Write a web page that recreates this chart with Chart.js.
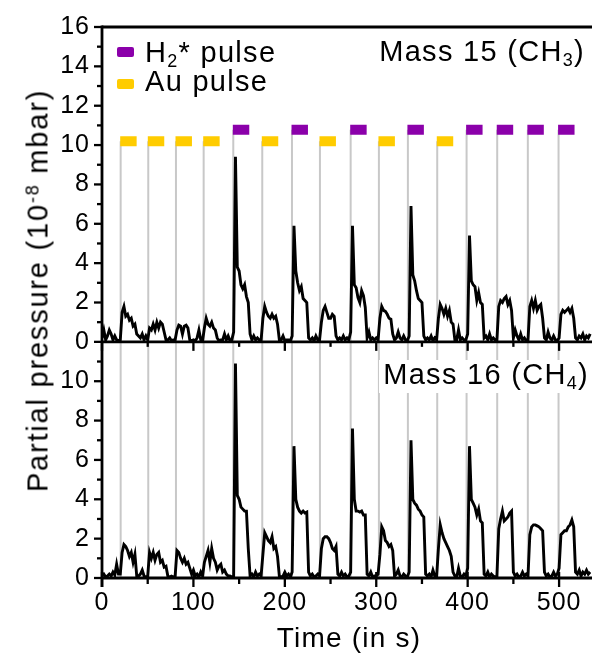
<!DOCTYPE html>
<html><head><meta charset="utf-8">
<script src="https://cdn.jsdelivr.net/npm/chart.js@4.4.1/dist/chart.umd.min.js"></script>
<style>
html,body{margin:0;padding:0;background:#fff;}
#wrap{position:relative;width:592px;height:654px;overflow:hidden;font-family:"Liberation Sans",Arial,sans-serif;color:#000;}
#c{position:absolute;left:0;top:0;}
.t{position:absolute;white-space:nowrap;}
sub{font-size:0.62em;vertical-align:baseline;position:relative;top:0.28em;line-height:0;}
sup{font-size:0.62em;vertical-align:baseline;position:relative;top:-0.5em;line-height:0;}
.sw{position:absolute;width:17px;height:10px;border-radius:2px;}
#ytitle{left:-212px;top:276px;width:500px;height:29px;line-height:29px;text-align:center;font-size:29px;letter-spacing:1.8px;transform:rotate(-90deg);}
#xtitle{left:199px;top:624px;width:300px;height:28px;line-height:28px;text-align:center;font-size:28px;letter-spacing:1.2px;}
#leg1,#leg2{font-size:29px;line-height:29px;letter-spacing:1.3px;left:145px;}
#leg1{top:38px;}
#leg2{top:67px;}
#m15{font-size:29px;line-height:29px;letter-spacing:1.3px;right:7px;top:37px;}
#m16{font-size:29px;line-height:29px;letter-spacing:1.3px;right:3px;top:360px;background:#fff;padding:0 0 4px 4px;}
</style></head>
<body><div id="wrap">
<canvas id="c" width="592" height="654"></canvas>
<div class="sw" style="left:117px;top:47px;background:#8B00AA"></div>
<div class="sw" style="left:117px;top:79px;background:#FFCC00"></div>
<div class="t" id="leg1">H<sub>2</sub>* pulse</div>
<div class="t" id="leg2">Au pulse</div>
<div class="t" id="m15">Mass 15 (CH<sub>3</sub>)</div>
<div class="t" id="m16">Mass 16 (CH<sub>4</sub>)</div>
<div class="t" id="ytitle">Partial pressure (10<sup>-8</sup> mbar)</div>
<div class="t" id="xtitle">Time (in s)</div>
</div>
<script>
// ---- data (time in s, sampled every 2 s; pressure in 1e-8 mbar) ----
const sampleStep = 2;
const mass15 = [
 0.2,0.6,0.1,0.3,0.6,0.4,0.1,0.3,0.1,0.05,
 0.1,1.5,1.8,1.3,1.4,1.1,1.2,0.8,0.9,0.4,
 0.3,0.2,0.4,0.1,0.3,0.1,0.7,0.6,0.9,0.6,
 1.0,0.7,1.0,0.9,0.5,0.1,0.1,0.2,0.05,0.1,
 0.1,0.6,0.85,0.8,0.4,0.8,0.85,0.7,0.1,0.05,
 0.1,0.05,0.2,0.6,0.1,0.05,0.7,1.2,0.9,0.8,
 1.0,0.7,0.6,0.2,0.05,0.1,0.1,0.4,0.1,0.3,
 0.05,0.1,0.5,9.4,3.8,3.6,2.9,2.7,2.9,2.3,
 2.0,0.4,0.1,0.3,0.1,0.2,0.1,0.05,1.2,1.8,
 1.5,1.3,1.2,1.4,1.2,1.3,0.9,0.1,0.1,0.3,
 0.05,0.1,0.1,0.05,0.3,5.9,3.6,3.0,2.6,2.8,
 2.2,2.1,2.0,0.2,0.1,0.2,0.05,0.3,0.1,0.1,
 1.0,1.6,1.8,1.5,1.2,1.2,1.4,1.3,0.3,0.1,
 0.2,0.1,0.3,0.1,0.2,0.1,0.5,5.9,2.9,2.75,
 2.25,2.0,2.6,2.35,1.75,0.2,0.5,0.1,0.2,0.1,
 0.2,0.1,1.2,1.8,1.6,1.55,1.4,1.2,1.15,0.4,
 0.1,0.2,0.5,0.2,0.1,0.3,0.1,0.05,0.3,6.9,
 3.4,3.1,2.6,2.2,2.1,2.0,0.3,0.1,0.2,0.1,
 0.3,0.05,0.2,0.1,1.2,1.9,1.7,1.4,1.7,1.3,
 1.6,1.0,0.9,0.1,0.1,0.6,0.1,0.2,0.1,0.1,
 0.4,5.4,3.1,2.9,2.8,2.1,2.5,2.0,1.9,0.2,
 0.3,0.1,0.4,0.1,0.2,0.1,0.1,1.8,2.1,2.0,
 2.2,2.3,1.9,2.1,1.6,0.2,0.6,0.3,0.1,0.4,
 0.1,0.2,0.05,0.1,1.8,2.1,1.7,2.1,1.6,1.8,
 1.9,1.2,0.2,0.1,0.5,0.2,0.1,0.3,0.1,0.05,
 0.2,1.4,1.6,1.5,1.6,1.7,1.5,1.7,1.2,0.2,
 0.1,0.3,0.2,0.4,0.1,0.3,0.2,0.4
];
const mass16 = [
 0.1,0.2,0.05,0.1,0.2,0.1,0.3,0.15,0.7,0.2,
 0.2,1.3,1.7,1.6,1.4,1.1,1.3,0.8,1.2,0.1,
 0.1,0.2,0.4,0.1,0.05,0.1,1.3,1.0,1.3,0.9,
 1.2,1.3,0.8,0.9,0.55,0.6,0.1,0.05,0.1,0.05,
 0.1,1.4,1.3,1.0,0.8,1.0,0.7,0.8,0.5,0.2,
 0.4,0.1,0.2,0.05,0.3,0.1,0.8,1.1,1.4,0.8,
 1.5,1.0,0.8,0.4,0.6,0.7,0.3,0.4,0.2,0.1,
 0.1,0.05,0.1,10.9,4.2,4.0,3.6,3.5,3.4,3.4,
 1.5,0.1,0.2,0.05,0.3,0.1,0.2,0.1,1.2,2.3,
 2.1,1.9,1.8,2.1,1.5,1.6,1.1,0.1,0.05,0.1,
 0.3,0.1,0.2,0.05,0.3,6.7,4.0,3.6,3.4,3.3,
 3.4,3.3,3.35,0.3,0.1,0.2,0.05,0.1,0.2,0.1,
 1.5,2.0,2.1,2.1,2.0,1.8,1.5,1.4,1.6,0.2,
 0.1,0.3,0.1,0.2,0.05,0.1,0.3,7.6,4.0,3.4,
 3.4,3.35,3.4,3.2,3.2,0.2,0.1,0.3,0.05,0.1,
 0.1,0.2,1.2,2.6,2.4,1.9,1.8,1.6,1.7,1.4,
 0.1,0.2,0.4,0.1,0.05,0.2,0.1,0.05,0.3,7.0,
 4.0,3.8,3.7,3.5,3.4,3.2,3.1,0.2,0.1,0.2,
 0.05,0.4,0.1,0.05,1.5,2.7,2.3,2.0,1.8,1.6,
 1.4,1.1,0.3,0.1,0.05,0.5,0.1,0.05,0.2,0.1,
 0.5,6.7,4.0,3.8,3.6,3.2,3.5,2.9,2.8,0.2,
 0.1,0.3,0.05,0.2,0.1,0.05,0.1,2.5,3.0,3.4,
 2.9,3.0,3.1,3.3,3.4,0.3,0.1,0.2,0.05,0.1,
 0.3,0.1,0.2,0.1,2.2,2.6,2.7,2.7,2.65,2.6,
 2.5,2.4,0.3,0.1,0.2,0.05,0.1,0.3,0.1,0.2,
 0.5,2.2,2.3,2.4,2.4,2.6,2.7,2.95,2.6,0.3,
 0.2,0.4,0.1,0.3,0.2,0.4,0.2,0.3
];
const auPulses = [20.4, 50.6, 80.9, 111.2, 175.3, 238.4, 302.9, 366.7];
const h2Pulses = [143.6, 207.8, 272.0, 334.6, 398.8, 432.3, 465.8, 499.4];
const auLevel = 10.2;
const h2Level = 10.78;
const pulseLength = 18;
const xTicks = [0, 100, 200, 300, 400, 500];
const xMinorTicks = [50, 150, 250, 350, 450];
const yTopTicks = [0, 2, 4, 6, 8, 10, 12, 14, 16];
const yTopMinor = [1, 3, 5, 7, 9, 11, 13, 15];
const yBotTicks = [0, 2, 4, 6, 8, 10];
const yBotMinor = [1, 3, 5, 7, 9, 11];

const times = mass15.map((_, i) => i * sampleStep);
const FONT = '"Liberation Sans", Arial, sans-serif';

function pulseLines(levelOf) {
  const pts = [];
  auPulses.concat(h2Pulses).sort((a, b) => a - b).forEach(t => {
    pts.push({x: t, y: 0}, {x: t, y: levelOf(t)}, {x: t, y: null});
  });
  return pts;
}
function markers(list, level) {
  const pts = [];
  list.forEach(t => { pts.push({x: t - 0.5, y: level}, {x: t - 0.5 + pulseLength, y: level}, {x: t - 0.5 + pulseLength, y: null}); });
  return pts;
}

const axisPlugin = {
  id: 'axesDraw',
  beforeDraw(chart) { chart.ctx.letterSpacing = '1px'; },
  afterDatasetsDraw(chart) {
    const ctx = chart.ctx, a = chart.chartArea, s = chart.scales;
    const x = s.x, yT = s.yTop, yB = s.yBot;
    ctx.save();
    ctx.strokeStyle = '#000';
    ctx.lineWidth = 2.8;
    ctx.lineCap = 'butt';
    const seg = (x1, y1, x2, y2) => { ctx.beginPath(); ctx.moveTo(x1, y1); ctx.lineTo(x2, y2); ctx.stroke(); };
    seg(a.left, a.top, a.right, a.top);
    seg(a.left, a.top - 1.4, a.left, a.bottom + 9);
    seg(a.left, yT.bottom, a.right, yT.bottom);
    seg(a.left, a.bottom, a.right, a.bottom);
    ctx.lineWidth = 2.3;
    yTopTicks.forEach(v => { const p = yT.getPixelForValue(v); seg(a.left - 8, p, a.left, p); });
    yTopMinor.forEach(v => { const p = yT.getPixelForValue(v); seg(a.left - 5, p, a.left, p); });
    yBotTicks.forEach(v => { const p = yB.getPixelForValue(v); seg(a.left - 8, p, a.left, p); });
    yBotMinor.forEach(v => { const p = yB.getPixelForValue(v); seg(a.left - 5, p, a.left, p); });
    xTicks.forEach(v => { const p = x.getPixelForValue(v);
      seg(p, yT.bottom, p, yT.bottom + 9);
      seg(p, a.bottom - 6, p, a.bottom + 9); });
    xMinorTicks.forEach(v => { const p = x.getPixelForValue(v);
      seg(p, yT.bottom, p, yT.bottom + 5);
      seg(p, a.bottom, p, a.bottom + 6); });
    ctx.restore();
  }
};

const tickFont = {family: FONT, size: 25};
new Chart(document.getElementById('c'), {
  type: 'line',
  data: {
    labels: times,
    datasets: [
      {data: mass15, yAxisID: 'yTop', borderColor: '#000', borderWidth: 2.9, order: 2},
      {data: mass16, yAxisID: 'yBot', borderColor: '#000', borderWidth: 2.9, order: 2},
      {data: pulseLines(t => auPulses.includes(t) ? auLevel : h2Level), yAxisID: 'yTop', borderColor: '#c8c8c8', borderWidth: 2, order: 3},
      {data: pulseLines(() => 12), yAxisID: 'yBot', borderColor: '#c8c8c8', borderWidth: 2, order: 3},
      {data: markers(h2Pulses, h2Level), yAxisID: 'yTop', borderColor: '#8B00AA', borderWidth: 10, borderCapStyle: 'butt', order: 1},
      {data: markers(auPulses, auLevel), yAxisID: 'yTop', borderColor: '#FFCC00', borderWidth: 10, borderCapStyle: 'butt', order: 1}
    ]
  },
  options: {
    responsive: false,
    animation: false,
    events: [],
    layout: {padding: {left: 0, right: 0, top: 25, bottom: 0}},
    elements: {point: {radius: 0}, line: {tension: 0, fill: false}},
    spanGaps: false,
    plugins: {legend: {display: false}, tooltip: {enabled: false}},
    scales: {
      x: {
        type: 'linear', position: 'bottom', min: 0, max: 536,
        afterFit(sc) { sc.height = 76; },
        afterBuildTicks(sc) { sc.ticks = xTicks.map(v => ({value: v})); },
        ticks: {font: tickFont, color: '#000', padding: 10, maxRotation: 0, autoSkip: false},
        grid: {display: false, drawTicks: false}, border: {display: false}
      },
      yBot: {
        type: 'linear', position: 'left', stack: 'panels', stackWeight: 12, min: 0, max: 12,
        afterFit(sc) { sc.width = 102; },
        afterBuildTicks(sc) { sc.ticks = yBotTicks.map(v => ({value: v})); },
        ticks: {font: tickFont, color: '#000', padding: 12, autoSkip: false},
        grid: {display: false, drawTicks: false}, border: {display: false}
      },
      yTop: {
        type: 'linear', position: 'left', stack: 'panels', stackWeight: 16, min: 0, max: 16,
        afterFit(sc) { sc.width = 102; },
        afterBuildTicks(sc) { sc.ticks = yTopTicks.map(v => ({value: v})); },
        ticks: {font: tickFont, color: '#000', padding: 12, autoSkip: false},
        grid: {display: false, drawTicks: false}, border: {display: false}
      }
    }
  },
  plugins: [axisPlugin]
});
</script>
</body></html>
